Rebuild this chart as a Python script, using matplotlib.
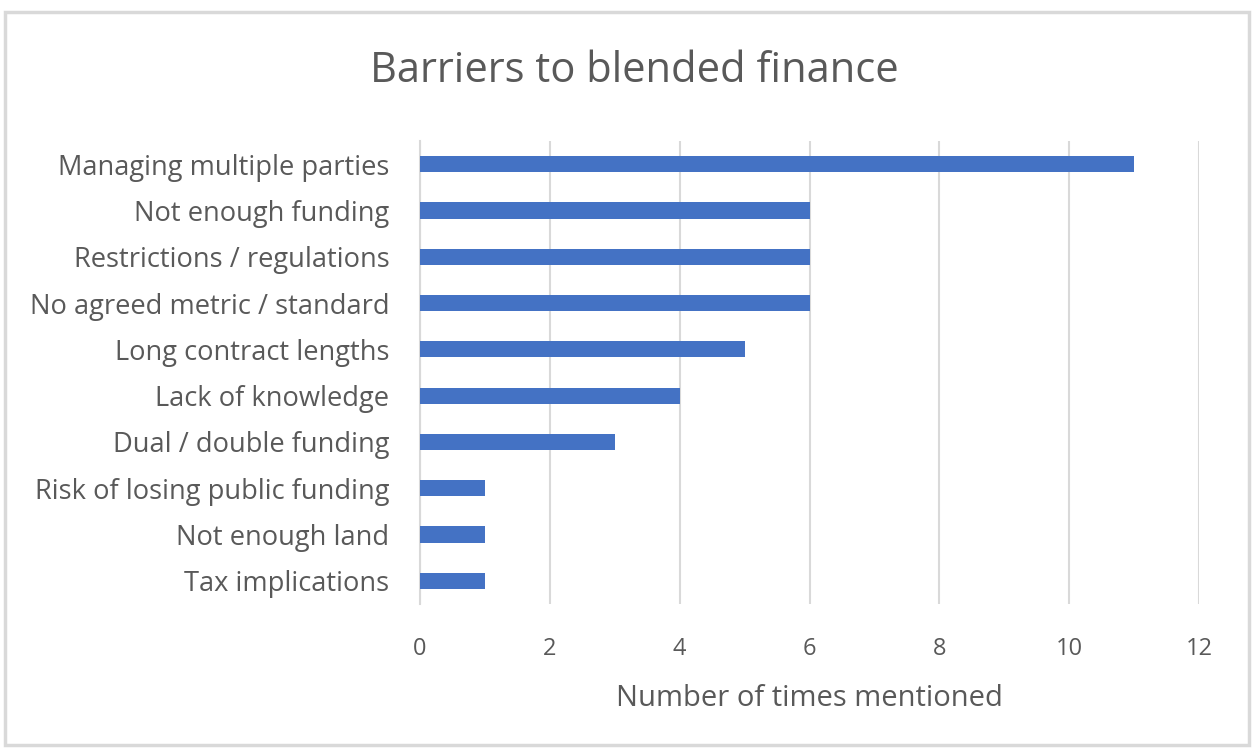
import matplotlib.pyplot as plt
from matplotlib.patches import Rectangle

# Barriers and how often each was mentioned (top to bottom)
barriers = [
    "Managing multiple parties",
    "Not enough funding",
    "Restrictions / regulations",
    "No agreed metric / standard",
    "Long contract lengths",
    "Lack of knowledge",
    "Dual / double funding",
    "Risk of losing public funding",
    "Not enough land",
    "Tax implications",
]
mentions = [11, 6, 6, 6, 5, 4, 3, 1, 1, 1]
xticks = [0, 2, 4, 6, 8, 10, 12]

plt.rcParams['font.family'] = ['Open Sans', 'DejaVu Sans']
text_col = "#595959"
grid_col = "#D9D9D9"

fig = plt.figure(figsize=(12.53, 7.51), dpi=100)
ax = fig.add_axes([0.3352, 0.1957, 0.6217, 0.6166])

pos = list(range(len(barriers)))
ax.barh(pos, mentions, height=0.35, color="#4472C4", zorder=3)

ax.set_ylim(len(barriers) - 0.5, -0.5)
ax.set_xlim(0, 12)
ax.set_xticks(xticks)
ax.set_yticks(pos)
ax.set_yticklabels(barriers, fontsize=19.6)
ax.grid(axis="x", color=grid_col, linewidth=1.5, zorder=0)
for s in ["top", "right", "bottom"]:
    ax.spines[s].set_visible(False)
ax.spines["left"].set_color(grid_col)
ax.spines["left"].set_linewidth(1.5)
ax.tick_params(axis="both", length=0, colors=text_col)
ax.tick_params(axis="x", pad=24, labelsize=17)
ax.tick_params(axis="y", pad=22)
ax.set_xlabel("Number of times mentioned", color=text_col, fontsize=21, labelpad=16)

fig.text(0.5065, 0.905, "Barriers to blended finance", ha="center", va="center",
         color=text_col, fontsize=30)

# chart frame
fig.patches.append(Rectangle((5 / 1253, 6 / 751), 1244 / 1253, 733 / 751,
                             transform=fig.transFigure, fill=False,
                             edgecolor=grid_col, linewidth=2.5))

fig.savefig("out.png", dpi=100)
